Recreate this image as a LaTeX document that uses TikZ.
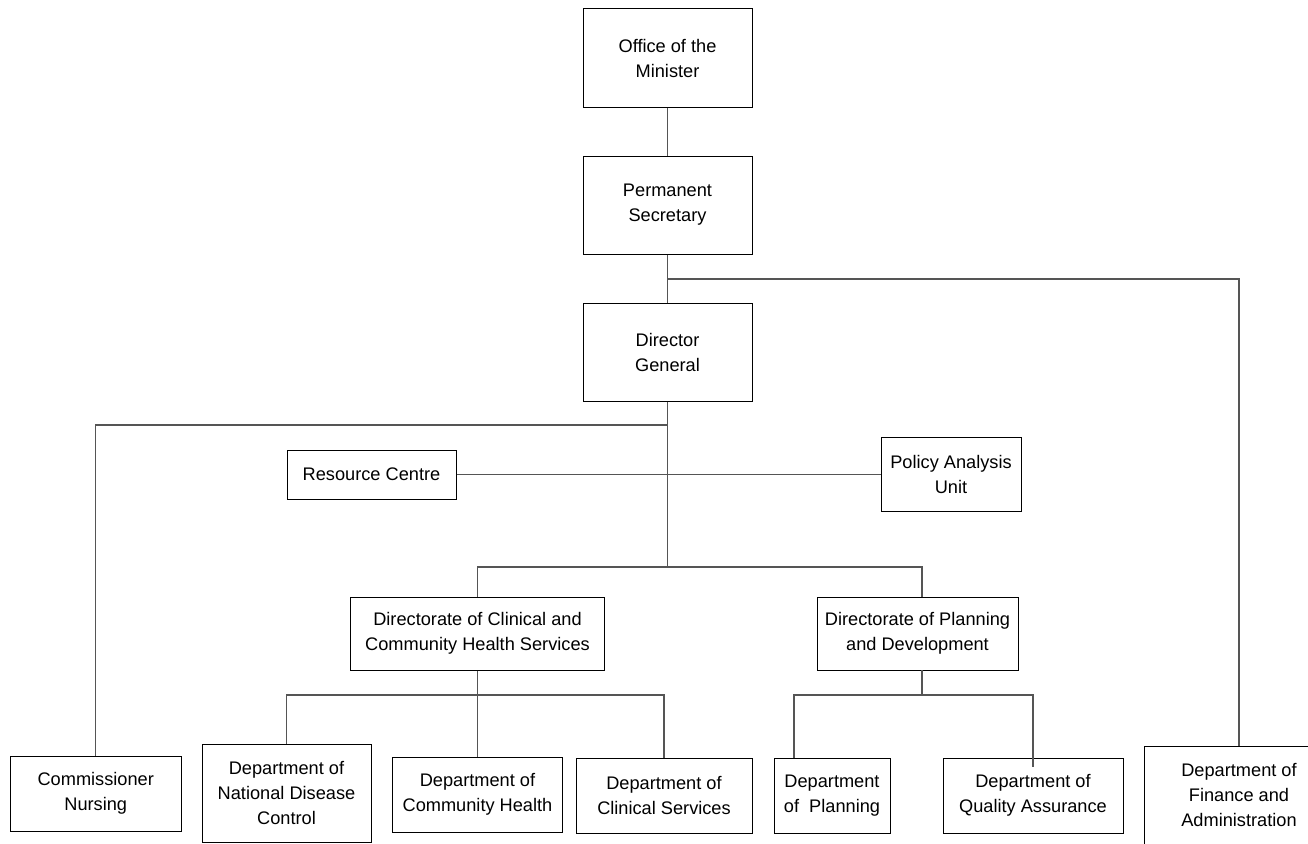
\documentclass[tikz,border=0pt]{standalone}
\usepackage{fontspec}
\setmainfont{Liberation Sans}
\begin{document}
\begin{tikzpicture}[x=1pt,y=-1pt,
  box/.style={draw=black, line width=1pt, align=center, inner sep=0pt, fill=white,
    font=\fontsize{18.2}{25}\selectfont},
  conn/.style={draw={rgb,255:red,85;green,85;blue,85}, line width=1.2pt}]
\useasboundingbox (0,0) rectangle (1308,843);
\clip (0,0) rectangle (1308,843);
% top chain
\node[box, minimum width=169pt, minimum height=98pt] (min) at (667.5,58) {Office of the\\Minister};
\node[box, minimum width=169pt, minimum height=98pt] (ps) at (667.5,205) {Permanent\\Secretary};
\node[box, minimum width=169pt, minimum height=98pt] (dg) at (667.5,352) {Director\\General};
% staff units
\node[box, minimum width=169pt, minimum height=49pt] (res) at (371.5,474.5) {Resource Centre};
\node[box, minimum width=140pt, minimum height=74pt] (pol) at (951,474.5) {Policy Analysis\\Unit};
% directorates
\node[box, minimum width=254pt, minimum height=73pt] (dcc) at (477.5,633.5) {Directorate of Clinical and\\Community Health Services};
\node[box, minimum width=201pt, minimum height=73pt] (dpd) at (917.5,633.5) {Directorate of Planning\\and Development};
% bottom row
\node[box, minimum width=170.5pt, minimum height=75pt] (comm) at (95.75,793.5) {Commissioner\\Nursing};
\node[box, minimum width=169pt, minimum height=98pt] (ndc) at (286.5,793) {Department of\\National Disease\\Control};
\node[box, minimum width=170pt, minimum height=75pt] (ch) at (477.5,794.5) {Department of\\Community Health};
\node[box, minimum width=176pt, minimum height=75pt] (cs) at (664,795.5) {Department of\\Clinical Services};
\node[box, minimum width=116pt, minimum height=75pt] (plan) at (832,795.5) {Department\\of\ \ Planning};
\node[box, minimum width=180pt, minimum height=75pt] (qa) at (1033,795.5) {Department of\\Quality Assurance};
\node[box, minimum width=190pt, minimum height=98pt] (fin) at (1239,795) {Department of\\Finance and\\Administration};
% junction coordinates
\coordinate (j1) at (667.5,279);
\coordinate (j2) at (667.5,425);
\coordinate (j3) at (667.5,567);
\coordinate (j4) at (477.5,695);
\coordinate (j5) at (922,695);
\coordinate (dpdtop) at (922,597);
\coordinate (dpdbot) at (922,670);
\coordinate (plantop) at (794,758);
\coordinate (qaend) at (1033,767);
% connectors
\draw[conn] (min.south) -- (ps.north);
\draw[conn] (ps.south) -- (dg.north);
\draw[conn] (j1) -| (fin.north);
\draw[conn] (dg.south) -- (j3);
\draw[conn] (j2) -| (comm.north);
\draw[conn] (res.east) -- (pol.west);
\draw[conn] (dcc.north) |- (j3) -| (dpdtop);
\draw[conn] (dcc.south) -- (j4);
\draw[conn] (ndc.north) |- (j4) -| (cs.north);
\draw[conn] (j4) -- (ch.north);
\draw[conn] (dpdbot) -- (j5);
\draw[conn] (plantop) |- (j5) -| (qaend);
\end{tikzpicture}
\end{document}
